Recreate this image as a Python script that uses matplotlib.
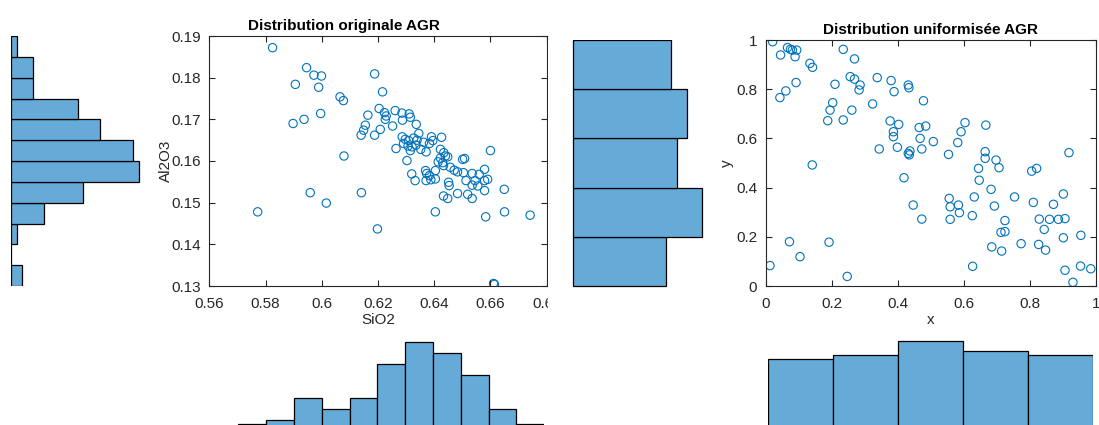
import matplotlib
matplotlib.use("Agg")
import matplotlib.pyplot as plt
from matplotlib.ticker import FuncFormatter

plt.rcParams['font.family'] = ['Liberation Sans', 'DejaVu Sans']

W, H = 1099, 425

# Donnees originales (SiO2, Al2O3)
sio2 = [0.5772, 0.5825, 0.5898, 0.5906, 0.5937, 0.5946, 0.5959, 0.5972, 0.5989, 0.5999,
        0.5996, 0.6016, 0.6065, 0.6077, 0.6079, 0.6141, 0.6188, 0.6198, 0.6216, 0.6164,
        0.6204, 0.6223, 0.6229, 0.6226, 0.6261, 0.6285, 0.6311, 0.6315, 0.6287, 0.6336,
        0.6155, 0.6149, 0.6140, 0.6188, 0.6208, 0.6252, 0.6286, 0.6297, 0.6309, 0.6327,
        0.6339, 0.6335, 0.6321, 0.6307, 0.6291, 0.6315, 0.6264, 0.6303, 0.6390, 0.6395,
        0.6426, 0.6383, 0.6371, 0.6422, 0.6434, 0.6440, 0.6422, 0.6414, 0.6430, 0.6448,
        0.6501, 0.6508, 0.6600, 0.6471, 0.6433, 0.6404, 0.6369, 0.6373, 0.6383, 0.6371,
        0.6388, 0.6404, 0.6320, 0.6332, 0.6504, 0.6535, 0.6513, 0.6545, 0.6579, 0.6579,
        0.6457, 0.6560, 0.6590, 0.6483, 0.6352, 0.6362, 0.6345, 0.6555, 0.6433, 0.6448,
        0.6483, 0.6519, 0.6535, 0.6579, 0.6649, 0.6453, 0.6451, 0.6535, 0.6404, 0.6583,
        0.6650, 0.6741, 0.6611, 0.6614]
al2o3 = [0.1478, 0.1872, 0.1690, 0.1784, 0.1700, 0.1824, 0.1524, 0.1806, 0.1777, 0.1804,
         0.1714, 0.1499, 0.1754, 0.1745, 0.1612, 0.1524, 0.1809, 0.1437, 0.1766, 0.1710,
         0.1726, 0.1716, 0.1708, 0.1700, 0.1721, 0.1715, 0.1713, 0.1705, 0.1698, 0.1688,
         0.1686, 0.1674, 0.1662, 0.1662, 0.1676, 0.1684, 0.1658, 0.1652, 0.1649, 0.1655,
         0.1650, 0.1638, 0.1634, 0.1636, 0.1642, 0.1625, 0.1630, 0.1601, 0.1658, 0.1649,
         0.1657, 0.1642, 0.1622, 0.1628, 0.1620, 0.1612, 0.1607, 0.1598, 0.1596, 0.1610,
         0.1604, 0.1606, 0.1625, 0.1578, 0.1589, 0.1577, 0.1577, 0.1570, 0.1565, 0.1553,
         0.1555, 0.1557, 0.1569, 0.1553, 0.1572, 0.1570, 0.1553, 0.1553, 0.1580, 0.1553,
         0.1585, 0.1568, 0.1556, 0.1574, 0.1628, 0.1645, 0.1666, 0.1540, 0.1516, 0.1510,
         0.1522, 0.1520, 0.1510, 0.1529, 0.1532, 0.1541, 0.1549, 0.1542, 0.1478, 0.1466,
         0.1478, 0.1470, 0.1306, 0.1304]

# Donnees uniformisees (x, y)
ux = [0.021, 0.045, 0.066, 0.081, 0.094, 0.089, 0.134, 0.142, 0.092, 0.061,
      0.043, 0.235, 0.269, 0.256, 0.269, 0.286, 0.283, 0.210, 0.203, 0.195,
      0.261, 0.188, 0.235, 0.324, 0.338, 0.380, 0.389, 0.432, 0.434, 0.478,
      0.377, 0.403, 0.387, 0.387, 0.399, 0.344, 0.432, 0.437, 0.465, 0.485,
      0.468, 0.473, 0.508, 0.141, 0.419, 0.447, 0.473, 0.072, 0.192, 0.104,
      0.013, 0.247, 0.554, 0.582, 0.592, 0.604, 0.667, 0.665, 0.665, 0.698,
      0.707, 0.645, 0.647, 0.683, 0.632, 0.754, 0.693, 0.556, 0.559, 0.584,
      0.587, 0.559, 0.626, 0.725, 0.713, 0.725, 0.685, 0.715, 0.774, 0.627,
      0.806, 0.821, 0.919, 0.811, 0.872, 0.902, 0.829, 0.860, 0.887, 0.907,
      0.844, 0.827, 0.848, 0.902, 0.955, 0.907, 0.954, 0.985, 0.931, 0.075,
      0.435]
uy = [0.993, 0.939, 0.969, 0.959, 0.959, 0.932, 0.905, 0.889, 0.827, 0.793,
      0.766, 0.962, 0.923, 0.851, 0.841, 0.817, 0.797, 0.820, 0.745, 0.715,
      0.715, 0.672, 0.675, 0.740, 0.847, 0.835, 0.790, 0.817, 0.806, 0.753,
      0.671, 0.657, 0.627, 0.607, 0.564, 0.557, 0.539, 0.549, 0.644, 0.650,
      0.600, 0.557, 0.587, 0.492, 0.440, 0.329, 0.272, 0.180, 0.178, 0.119,
      0.083, 0.039, 0.535, 0.583, 0.627, 0.664, 0.654, 0.546, 0.519, 0.512,
      0.481, 0.478, 0.430, 0.393, 0.362, 0.362, 0.325, 0.356, 0.322, 0.329,
      0.298, 0.271, 0.286, 0.266, 0.218, 0.221, 0.159, 0.142, 0.172, 0.080,
      0.467, 0.478, 0.542, 0.340, 0.332, 0.374, 0.272, 0.271, 0.271, 0.274,
      0.230, 0.169, 0.146, 0.196, 0.206, 0.064, 0.081, 0.070, 0.015, 0.962,
      0.533]

# Histogrammes (effectifs par classe)
al2o3_edges = [0.13, 0.135, 0.14, 0.145, 0.15, 0.155, 0.16, 0.165, 0.17, 0.175, 0.18, 0.185, 0.19]
al2o3_counts = [2, 0, 1, 6, 13, 23, 22, 16, 12, 4, 4, 1]
sio2_edges = [0.57, 0.58, 0.59, 0.60, 0.61, 0.62, 0.63, 0.64, 0.65, 0.66, 0.67, 0.68]
sio2_counts = [1, 2, 8, 5, 8, 17, 23, 20, 14, 5, 1]
u_edges = [0, 0.2, 0.4, 0.6, 0.8, 1.0]
uy_counts = [18, 25, 20, 22, 19]
ux_counts = [19, 20, 24, 21, 20]

FG = '#262626'
MARK = '#0072BD'
BAR = '#66AAD7'


def rect(x0, y0, x1, y1):
    # coordonnees pixels (origine en haut a gauche) -> fraction de figure
    return [x0 / W, 1 - y1 / H, (x1 - x0) / W, (y1 - y0) / H]


def style_scatter(ax):
    for s in ax.spines.values():
        s.set_color(FG)
        s.set_linewidth(0.8)
    ax.tick_params(direction='in', top=True, right=True, length=4, width=0.8,
                   colors=FG, labelsize=11)
    ax.tick_params(axis='x', pad=8)
    ax.tick_params(axis='y', pad=6)
    fmt = FuncFormatter(lambda v, p: f"{v:g}")
    ax.xaxis.set_major_formatter(fmt)
    ax.yaxis.set_major_formatter(fmt)


def bare(ax):
    ax.set_xticks([])
    ax.set_yticks([])
    for s in ax.spines.values():
        s.set_visible(False)


def widths(edges):
    return [edges[i + 1] - edges[i] for i in range(len(edges) - 1)]


fig = plt.figure(figsize=(W / 100, H / 100), dpi=100)

# --- nuage original
ax1 = fig.add_axes(rect(209.3, 36, 546.7, 286))
ax1.scatter(sio2, al2o3, s=36, facecolors='none', edgecolors=MARK, linewidths=0.8)
ax1.set_xlim(0.56, 0.68)
ax1.set_ylim(0.13, 0.19)
ax1.set_xticks([0.56, 0.58, 0.60, 0.62, 0.64, 0.66, 0.68])
ax1.set_yticks([0.13, 0.14, 0.15, 0.16, 0.17, 0.18, 0.19])
style_scatter(ax1)
ax1.set_xlabel('SiO2', fontsize=11, color=FG, labelpad=1)
ax1.set_ylabel('Al2O3', fontsize=11, color=FG, labelpad=-1.5)
ax1.set_title('Distribution originale AGR', fontsize=11, fontweight='bold',
              color='black', pad=4, x=0.4)

# --- nuage uniformise
ax2 = fig.add_axes(rect(765.7, 40, 1095.7, 286))
ax2.scatter(ux, uy, s=36, facecolors='none', edgecolors=MARK, linewidths=0.8)
ax2.set_xlim(0, 1)
ax2.set_ylim(0, 1)
ax2.set_xticks([0, 0.2, 0.4, 0.6, 0.8, 1])
ax2.set_yticks([0, 0.2, 0.4, 0.6, 0.8, 1])
style_scatter(ax2)
ax2.set_xlabel('x', fontsize=11, color=FG, labelpad=1)
ax2.set_ylabel('y', fontsize=11, color=FG, labelpad=2)
ax2.set_title('Distribution uniformisée AGR', fontsize=11, fontweight='bold',
              color='black', pad=4)

# --- histogramme Al2O3 (a gauche)
h1 = fig.add_axes(rect(11, 36, 150, 286))
h1.barh(al2o3_edges[:-1], al2o3_counts, height=widths(al2o3_edges), align='edge',
        color=BAR, edgecolor='black', linewidth=0.9)
h1.set_ylim(0.13, 0.19)
h1.set_xlim(0, 25)
bare(h1)

# --- histogramme y uniformise (au milieu) ; son fond blanc masque la fin de l'axe SiO2
h2 = fig.add_axes(rect(548, 40, 715, 330))
h2.barh(u_edges[:-1], uy_counts, height=widths(u_edges), align='edge',
        color=BAR, edgecolor='black', linewidth=0.9)
h2.set_ylim(-(330 - 286) / 246, 1)
h2.set_xlim(-(573.3 - 548) / 5.16, (715 - 573.3) / 5.16)
bare(h2)

# --- histogramme SiO2 (en bas)
h3 = fig.add_axes(rect(210.5, 334, 544.3, 427.75))
h3.bar(sio2_edges[:-1], sio2_counts, width=widths(sio2_edges), align='edge',
       color=BAR, edgecolor='black', linewidth=0.9)
h3.set_xlim(0.56, 0.68)
h3.set_ylim(0, 25)
bare(h3)

# --- histogramme x uniformise (en bas)
h4 = fig.add_axes(rect(767.7, 337, 1093.3, 427))
h4.bar(u_edges[:-1], ux_counts, width=widths(u_edges), align='edge',
       color=BAR, edgecolor='black', linewidth=0.9)
h4.set_xlim(0, 1)
h4.set_ylim(0, 25)
bare(h4)

fig.savefig('out.png', dpi=100)
